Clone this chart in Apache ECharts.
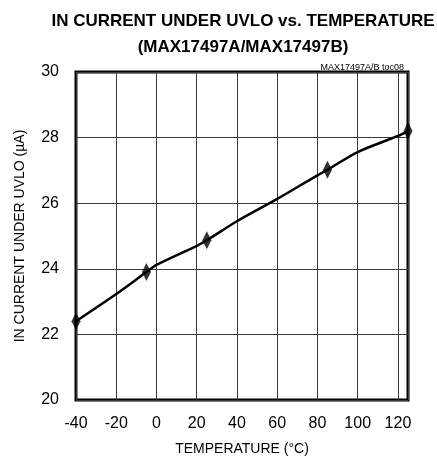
<!DOCTYPE html>
<html><head><meta charset="utf-8">
<script src="https://cdn.jsdelivr.net/npm/echarts@6/dist/echarts.min.js"></script>
<style>html,body{margin:0;padding:0;background:#fff}#c{width:437px;height:461px}</style>
</head><body><div id="c"></div>
<script>
const titleLines = ['IN CURRENT UNDER UVLO vs. TEMPERATURE', '(MAX17497A/MAX17497B)'];
const noteText = 'MAX17497A/B toc08';
const xName = 'TEMPERATURE (°C)';
const yName = 'IN CURRENT UNDER UVLO (µA)';
const curveTemp = [-40, -20, -5, 0, 20, 25, 40, 60, 80, 85, 100, 120, 125];
const curveCurrent = [22.4, 23.23, 23.9, 24.12, 24.7, 24.87, 25.45, 26.13, 26.85, 27.02, 27.56, 28.05, 28.2];
const markerTemp = [-40, -5, 25, 85, 125];
const markerCurrent = [22.4, 23.9, 24.87, 27.02, 28.2];

const font = '"Liberation Sans", Arial, sans-serif';
const chart = echarts.init(document.getElementById('c'));
chart.setOption({
  animation: false,
  title: [
    { text: titleLines.join('\n'), left: 238, textAlign: 'center', top: 3,
      textStyle: { fontFamily: font, fontWeight: 'bold', fontSize: 17, lineHeight: 26, color: '#000' } },
    { text: noteText, right: 28, top: 58,
      textStyle: { fontFamily: font, fontWeight: 'normal', fontSize: 9, color: '#000' } }
  ],
  grid: { left: 76, top: 72, right: 29, bottom: 58, show: true, borderColor: '#000', borderWidth: 3, backgroundColor: 'transparent' },
  xAxis: {
    type: 'value', min: -40, max: 125, interval: 20,
    name: xName, nameLocation: 'middle', nameGap: 42,
    nameTextStyle: { fontFamily: font, fontSize: 14, color: '#000' },
    axisLine: { show: false }, axisTick: { show: false },
    axisLabel: { fontFamily: font, fontSize: 16, color: '#000', margin: 16, showMaxLabel: false },
    splitLine: { show: true, lineStyle: { color: '#3a3a3a', width: 1 } }
  },
  yAxis: {
    type: 'value', min: 20, max: 30, interval: 2,
    name: yName, nameLocation: 'middle', nameGap: 49,
    nameTextStyle: { fontFamily: font, fontSize: 14, color: '#000' },
    axisLine: { show: false }, axisTick: { show: false },
    axisLabel: { fontFamily: font, fontSize: 16, color: '#000', margin: 17 },
    splitLine: { show: true, lineStyle: { color: '#3a3a3a', width: 1 } }
  },
  series: [
    { type: 'line', data: curveTemp.map((t, i) => [t, curveCurrent[i]]), showSymbol: false, smooth: 0.3,
      lineStyle: { color: '#000', width: 2.5 }, z: 3 },
    { type: 'scatter', data: markerTemp.map((t, i) => [t, markerCurrent[i]]), symbol: 'diamond', symbolSize: [9, 18],
      itemStyle: { color: '#000' }, z: 4 }
  ]
});
</script></body></html>
